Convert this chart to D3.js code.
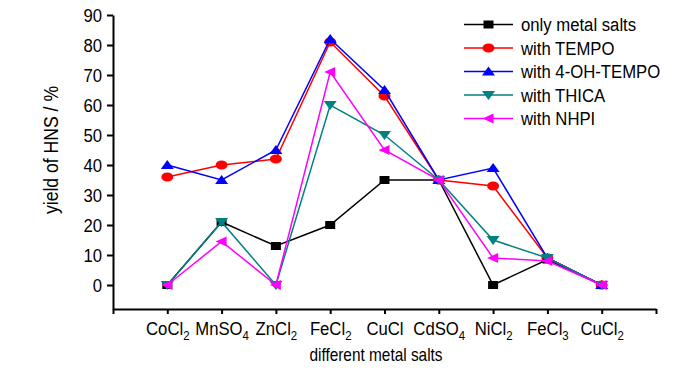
<!DOCTYPE html>
<html lang="en">
<head>
<meta charset="UTF-8" />
<title>Yield of HNS</title>
<script src="https://d3js.org/d3.v7.min.js"></script>
<style>
    body { margin: 0; background: #fff; font-family: "Liberation Sans", Arial, sans-serif; }
    .axis text { font-size: 19px; fill: #000; font-family: "Liberation Sans", Arial, sans-serif; }
    .axis path, .axis line { stroke: #000; stroke-width: 2px; }
    .series { fill: none; stroke-width: 1.5px; }
    .legend text { font-size: 19px; }
</style>
</head>
<body>
<div id="chart"></div>
<script>
const categoryBase = ["CoCl", "MnSO", "ZnCl", "FeCl", "CuCl", "CdSO", "NiCl", "FeCl", "CuCl"];
const categorySub  = ["2", "4", "2", "2", "", "4", "2", "3", "2"];

const onlyMetal = [0, 21, 13, 20, 35, 35, 0, 8.5, 0];
const tempo     = [36, 40, 42, 81, 63, 35, 33, 9, 0];
const ohTempo   = [40, 35, 45, 82, 65, 35, 39, 9, 0];
const thica     = [0, 21, 0, 60, 50, 35, 15, 9, 0];
const nhpi      = [0, 14.5, 0, 71, 45, 35, 9, 8, 0];

const seriesNames = ["only metal salts", "with TEMPO", "with 4-OH-TEMPO", "with THICA", "with NHPI"];
const yTicks = [0, 10, 20, 30, 40, 50, 60, 70, 80, 90];

const width = 700, height = 373;
const narrow = 0.88; // the original uses a condensed sans face

const svg = d3.select("#chart").append("svg")
    .attr("width", width)
    .attr("height", height);

const x = d3.scaleLinear().domain([0, 10]).range([113, 656]);
const y = d3.scaleLinear().domain([-8, 90]).range([309, 15]);

// squeeze text horizontally around its anchor
function condense(sel, pre) {
    sel.each(function () {
        const t = d3.select(this);
        const tx = +t.attr("x") || 0, ty = +t.attr("y") || 0;
        t.attr("x", null).attr("y", null)
            .attr("transform", `${pre || ""} translate(${tx},${ty}) scale(${narrow},1)`);
    });
}

// axes
const xAxis = svg.append("g")
    .attr("class", "axis")
    .attr("transform", `translate(0,${y(-8)})`)
    .call(d3.axisBottom(x).tickValues(d3.range(0, 11)).tickSize(5).tickSizeOuter(0).tickFormat(""));

xAxis.selectAll(".tick")
    .filter(d => d >= 1 && d <= 9)
    .append("text")
    .attr("y", 26)
    .attr("text-anchor", "middle")
    .each(function (d) {
        const t = d3.select(this);
        t.append("tspan").text(categoryBase[d - 1]);
        if (categorySub[d - 1]) {
            t.append("tspan").attr("dy", 5).attr("font-size", "13px").text(categorySub[d - 1]);
        }
    });
condense(xAxis.selectAll(".tick text"));

const yAxis = svg.append("g")
    .attr("class", "axis")
    .attr("transform", `translate(${x(0)},0)`)
    .call(d3.axisLeft(y).tickValues(yTicks).tickSize(6).tickSizeOuter(0).tickPadding(5));
yAxis.selectAll("text").attr("dy", "0.36em");
condense(yAxis.selectAll("text"));

svg.append("text")
    .attr("text-anchor", "middle")
    .attr("font-size", "20px")
    .text("yield of HNS / %")
    .call(condense, "translate(58,150) rotate(-90)");

svg.append("text")
    .attr("x", 376)
    .attr("y", 361)
    .attr("text-anchor", "middle")
    .attr("font-size", "17.5px")
    .text("different metal salts")
    .call(condense);

// markers
const shapes = {
    square: "M-5,-4H5V4H-5Z",
    circle: "M-6,0A6,4.5 0 1,0 6,0A6,4.5 0 1,0 -6,0Z",
    up: "M0,-5L6.5,4L-6.5,4Z",
    down: "M-6.5,-4L6.5,-4L0,5Z",
    left: "M-6,0L5,-5L5,5Z"
};

const series = [
    { name: seriesNames[0], values: onlyMetal, color: "#000000", shape: "square" },
    { name: seriesNames[1], values: tempo, color: "#ff0000", shape: "circle" },
    { name: seriesNames[2], values: ohTempo, color: "#0000ff", shape: "up" },
    { name: seriesNames[3], values: thica, color: "#008080", shape: "down" },
    { name: seriesNames[4], values: nhpi, color: "#ff00ff", shape: "left" }
];

const line = d3.line()
    .x((d, i) => x(i + 1))
    .y(d => y(d));

series.forEach(s => {
    const g = svg.append("g");
    g.append("path")
        .datum(s.values)
        .attr("class", "series")
        .attr("stroke", s.color)
        .attr("d", line);
    g.selectAll("path.marker")
        .data(s.values)
        .enter().append("path")
        .attr("class", "marker")
        .attr("transform", (d, i) => `translate(${x(i + 1)},${y(d)})`)
        .attr("d", shapes[s.shape])
        .attr("fill", s.color);
});

// legend
const legend = svg.append("g").attr("class", "legend");
series.forEach((s, i) => {
    const ly = 24.5 + i * 23.5;
    legend.append("line")
        .attr("x1", 464).attr("x2", 513)
        .attr("y1", ly).attr("y2", ly)
        .attr("stroke", s.color)
        .attr("stroke-width", 1.5);
    legend.append("path")
        .attr("transform", `translate(488.5,${ly})`)
        .attr("d", shapes[s.shape])
        .attr("fill", s.color);
    legend.append("text")
        .attr("x", 521)
        .attr("y", ly)
        .attr("dy", "0.36em")
        .text(s.name)
        .call(condense);
});
</script>
</body>
</html>
